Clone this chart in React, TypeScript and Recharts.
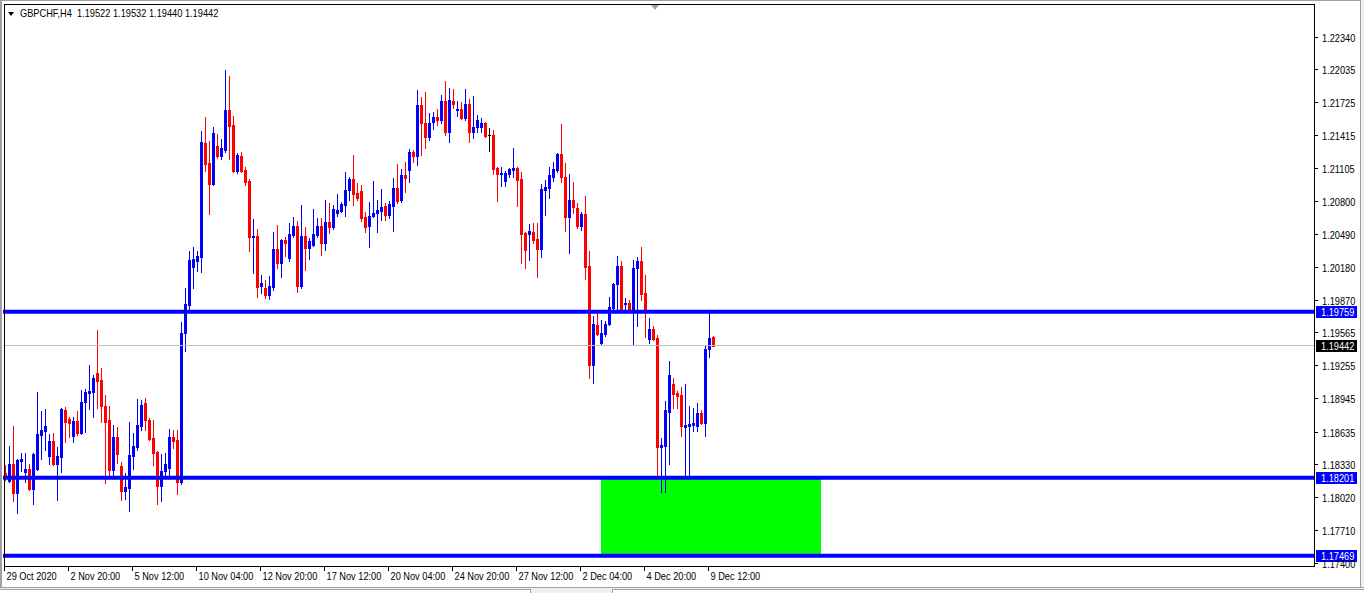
import React from 'react';
import { ComposedChart, Bar, XAxis, YAxis, ReferenceLine, ReferenceArea } from 'recharts';

const SYMBOL = 'GBPCHF,H4';

const opens = [
  1.18246, 1.18171, 1.18330, 1.18058, 1.18358, 1.18255, 1.18283, 1.18095, 1.18283, 1.18602,
  1.18640, 1.18405, 1.18546, 1.18330, 1.18396, 1.18837, 1.18752, 1.18592, 1.18733, 1.18621,
  1.18912, 1.18997, 1.19006, 1.19185, 1.19119, 1.18875, 1.18743, 1.18274, 1.18583, 1.18311,
  1.18077, 1.18105, 1.18405, 1.18489, 1.18687, 1.18903, 1.18743, 1.18574, 1.18443, 1.18124,
  1.18264, 1.18293, 1.18583, 1.18555, 1.18161, 1.19560, 1.19823, 1.20180, 1.20236, 1.20274,
  1.21344, 1.21157, 1.20959, 1.21316, 1.21222, 1.21279, 1.21654, 1.21513, 1.21081, 1.21222,
  1.21091, 1.20987, 1.20462, 1.20471, 1.20001, 1.19983, 1.19917, 1.19992, 1.20349, 1.20218,
  1.20433, 1.20265, 1.20480, 1.20565, 1.20001, 1.20471, 1.20358, 1.20386, 1.20480, 1.20565,
  1.20405, 1.20602, 1.20555, 1.20687, 1.20706, 1.20762, 1.20903, 1.21006, 1.20875, 1.20893,
  1.20649, 1.20565, 1.20659, 1.20687, 1.20706, 1.20753, 1.20668, 1.20753, 1.20922, 1.20809,
  1.21044, 1.21091, 1.21260, 1.21222, 1.21701, 1.21532, 1.21400, 1.21541, 1.21588, 1.21560,
  1.21738, 1.21447, 1.21738, 1.21654, 1.21663, 1.21579, 1.21710, 1.21447, 1.21494, 1.21494,
  1.21532, 1.21419, 1.21419, 1.21110, 1.21053, 1.20987, 1.21053, 1.21091, 1.21110, 1.21006,
  1.20499, 1.20490, 1.20508, 1.20443, 1.20349, 1.20903, 1.20922, 1.21025, 1.21091, 1.21241,
  1.21025, 1.20649, 1.20809, 1.20734, 1.20565, 1.20678, 1.20189, 1.19260, 1.19635, 1.19466,
  1.19551, 1.19645, 1.19795, 1.20020, 1.20189, 1.19832, 1.19842, 1.19767, 1.20171, 1.20236,
  1.19936, 1.19504, 1.19598, 1.19513, 1.18489, 1.18499, 1.18818, 1.19081, 1.18997, 1.18978,
  1.18677, 1.18687, 1.18696, 1.18687, 1.18809, 1.18715, 1.19410, 1.19522,
];

const highs = [
  1.18321, 1.18499, 1.18687, 1.18377, 1.18433, 1.18433, 1.18330, 1.18433, 1.19006, 1.18828,
  1.18846, 1.18611, 1.18621, 1.18489, 1.18855, 1.18865, 1.18771, 1.18771, 1.18828, 1.19025,
  1.19034, 1.19260, 1.19166, 1.19588, 1.19232, 1.18978, 1.18875, 1.18696, 1.18677, 1.18349,
  1.18246, 1.18724, 1.18621, 1.18940, 1.18931, 1.18950, 1.18762, 1.18743, 1.18452, 1.18424,
  1.18433, 1.18658, 1.18649, 1.18649, 1.19663, 1.19983, 1.20330, 1.20368, 1.20330, 1.21457,
  1.21588, 1.21363, 1.21494, 1.21429, 1.21382, 1.22030, 1.21974, 1.21598, 1.21250, 1.21260,
  1.21119, 1.21006, 1.20631, 1.20537, 1.20105, 1.20058, 1.20095, 1.20508, 1.20574, 1.20443,
  1.20462, 1.20593, 1.20649, 1.20612, 1.20762, 1.20555, 1.20452, 1.20724, 1.20640, 1.20640,
  1.20809, 1.20781, 1.20762, 1.20865, 1.20790, 1.21072, 1.21025, 1.21232, 1.20969, 1.20950,
  1.20696, 1.20790, 1.20987, 1.20809, 1.20912, 1.20781, 1.20800, 1.21016, 1.21147, 1.21100,
  1.21166, 1.21288, 1.21279, 1.21842, 1.21776, 1.21823, 1.21626, 1.21635, 1.21663, 1.21795,
  1.21927, 1.21861, 1.21851, 1.21738, 1.21729, 1.21851, 1.21757, 1.21786, 1.21607, 1.21579,
  1.21541, 1.21485, 1.21466, 1.21119, 1.21119, 1.21081, 1.21110, 1.21297, 1.21119, 1.21072,
  1.20508, 1.20584, 1.20593, 1.20593, 1.20959, 1.20997, 1.21119, 1.21166, 1.21250, 1.21522,
  1.21157, 1.21053, 1.20978, 1.20781, 1.20696, 1.20847, 1.20330, 1.19720, 1.19748, 1.19682,
  1.19673, 1.19898, 1.20030, 1.20283, 1.20236, 1.19889, 1.19870, 1.20246, 1.20274, 1.20368,
  1.20105, 1.19701, 1.19626, 1.19541, 1.18574, 1.18922, 1.19298, 1.19138, 1.19016, 1.19053,
  1.19081, 1.18875, 1.18856, 1.18903, 1.18837, 1.19448, 1.19748, 1.19532,
];

const lows = [
  1.18180, 1.18161, 1.17983, 1.17870, 1.18264, 1.18161, 1.18090, 1.17954, 1.18275, 1.18377,
  1.18461, 1.18330, 1.18320, 1.17992, 1.18255, 1.18536, 1.18583, 1.18536, 1.18602, 1.18611,
  1.18630, 1.18846, 1.18771, 1.18856, 1.18724, 1.18152, 1.18208, 1.18208, 1.18340, 1.17992,
  1.18001, 1.17889, 1.18283, 1.18461, 1.18649, 1.18649, 1.18555, 1.18321, 1.17954, 1.17983,
  1.18208, 1.18208, 1.18480, 1.18049, 1.18142, 1.19391, 1.19776, 1.19983, 1.20142, 1.20133,
  1.21081, 1.20678, 1.20950, 1.21204, 1.21194, 1.21260, 1.21194, 1.21072, 1.21063, 1.21072,
  1.20950, 1.20330, 1.20124, 1.19898, 1.19936, 1.19889, 1.19880, 1.19964, 1.20171, 1.20086,
  1.20283, 1.20236, 1.20462, 1.19945, 1.19983, 1.20152, 1.20255, 1.20377, 1.20462, 1.20293,
  1.20340, 1.20499, 1.20537, 1.20659, 1.20700, 1.20659, 1.20809, 1.20762, 1.20809, 1.20612,
  1.20508, 1.20368, 1.20650, 1.20508, 1.20621, 1.20621, 1.20640, 1.20518, 1.20781, 1.20790,
  1.20884, 1.20978, 1.21166, 1.21138, 1.21232, 1.21297, 1.21372, 1.21476, 1.21513, 1.21532,
  1.21419, 1.21354, 1.21673, 1.21598, 1.21570, 1.21560, 1.21354, 1.21391, 1.21447, 1.21447,
  1.21400, 1.21269, 1.21053, 1.20800, 1.20940, 1.20940, 1.21025, 1.21025, 1.20753, 1.20218,
  1.20171, 1.20246, 1.20405, 1.20086, 1.20274, 1.20668, 1.20828, 1.20987, 1.21072, 1.20978,
  1.20518, 1.20311, 1.20687, 1.20546, 1.20527, 1.20067, 1.19138, 1.19091, 1.19541, 1.19460,
  1.19532, 1.19635, 1.19785, 1.19757, 1.19760, 1.19767, 1.19760, 1.19448, 1.19626, 1.19870,
  1.19523, 1.19466, 1.19494, 1.18208, 1.18067, 1.18067, 1.18330, 1.18856, 1.18856, 1.18592,
  1.18227, 1.18208, 1.18640, 1.18640, 1.18710, 1.18592, 1.19335, 1.19440,
];

const closes = [
  1.18199, 1.18330, 1.18058, 1.18368, 1.18377, 1.18283, 1.18095, 1.18424, 1.18611, 1.18649,
  1.18687, 1.18546, 1.18330, 1.18405, 1.18846, 1.18724, 1.18715, 1.18733, 1.18621, 1.18912,
  1.19006, 1.19016, 1.19138, 1.19110, 1.18875, 1.18724, 1.18274, 1.18583, 1.18424, 1.18077,
  1.18114, 1.18414, 1.18499, 1.18696, 1.18884, 1.18743, 1.18564, 1.18433, 1.18124, 1.18264,
  1.18330, 1.18583, 1.18546, 1.18161, 1.19560, 1.19832, 1.20246, 1.20255, 1.20283, 1.21354,
  1.21147, 1.20959, 1.21438, 1.21222, 1.21297, 1.21654, 1.21504, 1.21081, 1.21232, 1.21081,
  1.20978, 1.20462, 1.20471, 1.19992, 1.20030, 1.19917, 1.20001, 1.20349, 1.20218, 1.20433,
  1.20405, 1.20490, 1.20565, 1.20001, 1.20471, 1.20358, 1.20424, 1.20490, 1.20565, 1.20405,
  1.20602, 1.20555, 1.20724, 1.20715, 1.20771, 1.20903, 1.21006, 1.20865, 1.20828, 1.20640,
  1.20555, 1.20659, 1.20687, 1.20715, 1.20743, 1.20668, 1.20771, 1.20922, 1.20800, 1.21044,
  1.21016, 1.21260, 1.21222, 1.21701, 1.21532, 1.21400, 1.21532, 1.21588, 1.21560, 1.21738,
  1.21447, 1.21748, 1.21710, 1.21663, 1.21579, 1.21710, 1.21447, 1.21494, 1.21560, 1.21532,
  1.21410, 1.21419, 1.21100, 1.21053, 1.21063, 1.21063, 1.21100, 1.21110, 1.20997, 1.20490,
  1.20340, 1.20518, 1.20433, 1.20349, 1.20912, 1.20931, 1.21044, 1.21100, 1.21241, 1.21025,
  1.20649, 1.20809, 1.20743, 1.20565, 1.20678, 1.20180, 1.19260, 1.19645, 1.19551, 1.19560,
  1.19645, 1.19804, 1.20020, 1.20189, 1.19767, 1.19842, 1.19767, 1.20171, 1.20236, 1.19926,
  1.19785, 1.19598, 1.19504, 1.18489, 1.18508, 1.18837, 1.19166, 1.18987, 1.18969, 1.18687,
  1.18696, 1.18705, 1.18715, 1.18809, 1.18715, 1.19410, 1.19513, 1.19442,
];

const timeTickLabels = [
  '29 Oct 2020', '2 Nov 20:00', '5 Nov 12:00', '10 Nov 04:00', '12 Nov 20:00', '17 Nov 12:00',
  '20 Nov 04:00', '24 Nov 20:00', '27 Nov 12:00', '2 Dec 04:00', '4 Dec 20:00', '9 Dec 12:00',
];
const BARS_PER_TIME_TICK = 16;

const priceTicks = [
  1.2234, 1.22035, 1.21725, 1.21415, 1.21105, 1.208, 1.2049, 1.2018, 1.1987,
  1.19565, 1.19255, 1.18945, 1.18635, 1.1833, 1.1802, 1.1771, 1.174,
];

const resistanceLevel = 1.19759;
const supportLevel = 1.18201;
const lowerLevel = 1.17469;
const bidPrice = 1.19442;
const zoneStartBar = 149;
const zoneEndBar = 204;

const TOTAL_SLOTS = 328;
const PRICE_MIN = 1.17372;
const PRICE_MAX = 1.2264;

const BULL = '#0000FF';
const BEAR = '#FF0000';
const LEVEL = '#0000FF';
const ZONE = '#00FF00';
const FONT = '"Liberation Sans", Arial, sans-serif';
const SQUEEZE = 0.84;

const AXIS_X = 1314;
const AXIS_Y = 566;

const data = Array.from({ length: TOTAL_SLOTS }, (_, i) =>
  i < opens.length
    ? { i, o: opens[i], h: highs[i], l: lows[i], c: closes[i] }
    : { i, o: null, h: null, l: null, c: null }
);

const timeTickIdx = timeTickLabels.map((_, k) => k * BARS_PER_TIME_TICK);

const rangeKey = (d: any) => (d.h == null ? null : [d.l, d.h]);

const NarrowText = ({ x, y, fill, children }: any) => (
  <text
    transform={`translate(${x},${y}) scale(${SQUEEZE},1)`}
    fontSize={11}
    fontFamily={FONT}
    fill={fill}
  >
    {children}
  </text>
);

const Candle = (props: any) => {
  const { x, y, height, payload } = props;
  if (!payload || payload.h == null || x == null || y == null) return null;
  const { o, h, l, c } = payload;
  const top = Math.min(y, y + height);
  const bot = Math.max(y, y + height);
  const span = h - l;
  const pix = (v: number) => (span === 0 ? top : top + ((h - v) / span) * (bot - top));
  const color = c > o ? BULL : c < o ? BEAR : '#000000';
  const left = Math.round(x);
  const wTop = Math.round(top);
  const wBot = Math.round(bot);
  const bTop = Math.round(Math.min(pix(o), pix(c)));
  const bBot = Math.round(Math.max(pix(o), pix(c)));
  return (
    <g>
      <rect x={left + 2} y={wTop} width={1} height={Math.max(1, wBot - wTop + 1)} fill={color} />
      <rect x={left + 1} y={bTop} width={3} height={Math.max(1, bBot - bTop + 1)} fill={color} />
    </g>
  );
};

const PriceTick = (props: any) => {
  const { y, payload } = props;
  const yy = Math.round(y) + 0.5;
  return (
    <g>
      <line x1={AXIS_X} x2={AXIS_X + 4} y1={yy} y2={yy} stroke="#000" strokeWidth={1} />
      <NarrowText x={AXIS_X + 8} y={yy + 4} fill="#000">
        {Number(payload.value).toFixed(5)}
      </NarrowText>
    </g>
  );
};

const TimeTick = (props: any) => {
  const { x, payload } = props;
  const idx = Number(payload.value);
  const label = timeTickLabels[Math.round(idx / BARS_PER_TIME_TICK)];
  const xx = Math.round(x) - 0.5;
  return (
    <g>
      <line x1={xx} x2={xx} y1={AXIS_Y} y2={AXIS_Y + 5} stroke="#000" strokeWidth={1} />
      <NarrowText x={xx + 2} y={AXIS_Y + 14} fill="#000">
        {label}
      </NarrowText>
    </g>
  );
};

const makeTag = (value: number, bg: string) => (props: any) => {
  const vb = props.viewBox || {};
  const y = Math.round(vb.y);
  return (
    <g>
      <rect x={AXIS_X + 2} y={y - 6} width={41} height={12} fill={bg} />
      <NarrowText x={AXIS_X + 7} y={y + 4} fill="#FFFFFF">
        {value.toFixed(5)}
      </NarrowText>
    </g>
  );
};

const ZoneRect = (props: any) => {
  const { x, y, width, height } = props;
  return <rect x={x + 2} y={y} width={width - 4} height={height} fill={ZONE} />;
};

export default function App() {
  const last = opens.length - 1;
  const title = `${SYMBOL}  ${opens[last].toFixed(5)} ${highs[last].toFixed(5)} ${lows[last].toFixed(5)} ${closes[last].toFixed(5)}`;
  return (
    <div
      style={{
        position: 'fixed',
        left: 0,
        top: 0,
        width: 1364,
        height: 593,
        background: '#FFFFFF',
        overflow: 'hidden',
        fontFamily: FONT,
      }}
    >
      <ComposedChart
        width={1364}
        height={593}
        data={data}
        margin={{ top: 5, right: 8, bottom: 7, left: 3 }}
        barCategoryGap={0}
        barGap={0}
      >
        <XAxis
          dataKey="i"
          type="category"
          ticks={timeTickIdx}
          interval={0}
          tick={<TimeTick />}
          tickLine={false}
          axisLine={false}
          height={20}
        />
        <YAxis
          orientation="right"
          type="number"
          domain={[PRICE_MIN, PRICE_MAX]}
          allowDataOverflow
          ticks={priceTicks}
          interval={0}
          tick={<PriceTick />}
          tickLine={false}
          axisLine={false}
          width={41}
        />
        <ReferenceArea
          x1={zoneStartBar}
          x2={zoneEndBar}
          y1={lowerLevel}
          y2={supportLevel}
          fill={ZONE}
          fillOpacity={1}
          shape={<ZoneRect />}
        />
        <ReferenceLine y={bidPrice} stroke="#C0C0C0" strokeWidth={1} />
        <Bar dataKey={rangeKey} shape={<Candle />} isAnimationActive={false} />
        <ReferenceLine y={resistanceLevel} stroke={LEVEL} strokeWidth={4} label={makeTag(resistanceLevel, LEVEL)} />
        <ReferenceLine y={supportLevel} stroke={LEVEL} strokeWidth={4} label={makeTag(supportLevel, LEVEL)} />
        <ReferenceLine y={lowerLevel} stroke={LEVEL} strokeWidth={4} label={makeTag(lowerLevel, LEVEL)} />
        <ReferenceLine y={bidPrice} stroke="none" label={makeTag(bidPrice, '#000000')} />
      </ComposedChart>

      {/* chart frame */}
      <div style={{ position: 'absolute', left: 0, top: 0, width: 2, height: 593, background: '#A0A0A0' }} />
      <div style={{ position: 'absolute', left: 0, top: 0, width: 1364, height: 1, background: '#A0A0A0' }} />
      <div style={{ position: 'absolute', left: 4, top: 4, width: 1, height: AXIS_Y - 4, background: '#000' }} />
      <div style={{ position: 'absolute', left: 4, top: 4, width: AXIS_X - 4, height: 1, background: '#000' }} />
      <div style={{ position: 'absolute', left: AXIS_X, top: 4, width: 1, height: AXIS_Y - 3, background: '#000' }} />
      <div style={{ position: 'absolute', left: 4, top: AXIS_Y, width: AXIS_X - 3, height: 1, background: '#000' }} />
      <div style={{ position: 'absolute', left: 1360, top: 0, width: 4, height: 593, background: '#F0F0F0', borderLeft: '1px solid #A0A0A0' }} />
      <div style={{ position: 'absolute', left: 0, top: 587, width: 1364, height: 6, background: '#F0F0F0', borderTop: '1px solid #A0A0A0' }} />
      <div style={{ position: 'absolute', left: 0, top: 589, width: 530, height: 4, background: '#FFFFFF', borderTop: '1px solid #A0A0A0', borderRight: '1px solid #A0A0A0' }} />
      <div style={{ position: 'absolute', left: 612, top: 589, width: 752, height: 4, background: '#FFFFFF', borderTop: '1px solid #A0A0A0', borderLeft: '1px solid #A0A0A0' }} />
      {/* chart shift marker */}
      <div
        style={{
          position: 'absolute',
          left: 651,
          top: 5,
          width: 0,
          height: 0,
          borderLeft: '4px solid transparent',
          borderRight: '4px solid transparent',
          borderTop: '5px solid #A0A0A0',
        }}
      />
      {/* title */}
      <div
        style={{
          position: 'absolute',
          left: 8,
          top: 7,
          fontSize: 11,
          lineHeight: '13px',
          color: '#000',
          whiteSpace: 'pre',
          display: 'flex',
          alignItems: 'center',
        }}
      >
        <span
          style={{
            display: 'inline-block',
            width: 0,
            height: 0,
            borderLeft: '3px solid transparent',
            borderRight: '3px solid transparent',
            borderTop: '4px solid #000',
            marginRight: 6,
          }}
        />
        <span style={{ display: 'inline-block', transform: `scaleX(${SQUEEZE})`, transformOrigin: 'left center' }}>
          {title}
        </span>
      </div>
    </div>
  );
}
